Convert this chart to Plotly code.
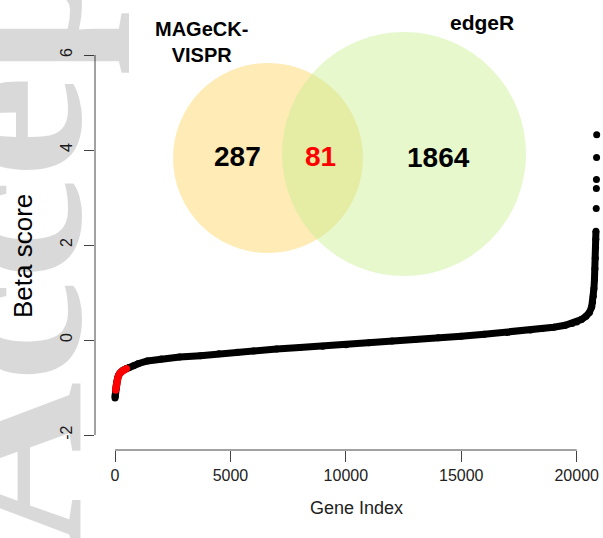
import plotly.graph_objects as go

# Genes ranked by beta score (rank -> beta)
gene_rank = [1, 5, 10, 20, 28, 40, 55, 70, 90, 120, 160, 210, 270, 340, 420, 500,
             600, 800, 1000, 1400, 2000, 2800, 3700, 4500, 5300, 6000, 7000, 8000,
             9000, 10000, 11000, 12000, 13000, 14000, 15000, 16000, 17000, 18000,
             18500, 19000, 19500, 19800, 20000, 20200, 20400, 20550, 20650, 20690,
             20720, 20745, 20770, 20790, 20805, 20818, 20828, 20834,
             20846, 20852, 20856, 20861, 20866]
beta_score = [-1.22, -1.18, -1.14, -1.09, -1.06, -1.00, -0.95, -0.90, -0.85, -0.79,
              -0.74, -0.70, -0.67, -0.64, -0.62, -0.60,
              -0.58, -0.54, -0.50, -0.44, -0.40, -0.36, -0.33, -0.29, -0.26, -0.23,
              -0.19, -0.16, -0.13, -0.10, -0.06, -0.02, 0.01, 0.045, 0.08, 0.12,
              0.16, 0.21, 0.24, 0.27, 0.31, 0.35, 0.38, 0.43, 0.50, 0.58, 0.70, 0.80,
              0.92, 1.08, 1.28, 1.50, 1.72, 1.95, 2.12, 2.29,
              2.77, 3.19, 3.38, 3.84, 4.32]

# Rank window of the genes shared by both methods (drawn in red)
shared_rank_window = (28, 500)
# Top outliers drawn as separate points
outlier_from_rank = 20840

# Venn diagram of hit genes
venn_sets = ["MAGeCK-<br>VISPR", "edgeR"]
venn_counts = [287, 81, 1864]   # MAGeCK only, both, edgeR only

x_ticks = [0, 5000, 10000, 15000, 20000]
y_ticks = [-2, 0, 2, 4, 6]

W, H = 603, 538
ML, MR, MT, MB = 95, 0, 40, 88
PW, PH = W - ML - MR, H - MT - MB


def px(x):
    return (x - ML) / PW


def py(y):
    return (H - MB - y) / PH


FONT = "Liberation Sans, Arial, sans-serif"
INK = "#444444"

body = [(r, b) for r, b in zip(gene_rank, beta_score) if r < outlier_from_rank]
tail = [(r, b) for r, b in zip(gene_rank, beta_score) if r >= outlier_from_rank]
shared = [(r, b) for r, b in zip(gene_rank, beta_score)
          if shared_rank_window[0] <= r <= shared_rank_window[1]]

fig = go.Figure()
fig.add_trace(go.Scatter(
    x=[r for r, _ in body], y=[b for _, b in body], mode="lines+markers",
    line=dict(color="black", width=7), marker=dict(color="black", size=7),
    hoverinfo="skip"))
fig.add_trace(go.Scatter(
    x=[r for r, _ in tail], y=[b for _, b in tail], mode="markers",
    marker=dict(color="black", size=7), hoverinfo="skip"))
fig.add_trace(go.Scatter(
    x=[r for r, _ in shared], y=[b for _, b in shared], mode="lines+markers",
    line=dict(color="#ff0000", width=7), marker=dict(color="#ff0000", size=7),
    hoverinfo="skip"))

shapes = [
    # detached R-style axis lines spanning the tick range
    dict(type="line", xref="paper", yref="y", x0=0, x1=0, y0=y_ticks[0], y1=y_ticks[-1],
         line=dict(color=INK, width=1)),
    dict(type="line", xref="x", yref="paper", x0=x_ticks[0], x1=x_ticks[-1], y0=0, y1=0,
         line=dict(color=INK, width=1)),
    # Venn circles
    dict(type="circle", xref="paper", yref="paper", x0=px(173), x1=px(363),
         y0=py(253), y1=py(63), fillcolor="rgb(253,211,93)", opacity=0.45,
         line=dict(width=0), layer="above"),
    dict(type="circle", xref="paper", yref="paper", x0=px(282), x1=px(526),
         y0=py(276), y1=py(32), fillcolor="rgb(199,239,142)", opacity=0.45,
         line=dict(width=0), layer="above"),
]

annotations = [
    dict(text="<b>Accepted Manuscript</b>", xref="paper", yref="paper", x=px(2), y=py(550),
         xanchor="center", yanchor="bottom", textangle=-90, showarrow=False,
         font=dict(family="Liberation Serif, Times New Roman, serif", size=230,
                   color="rgba(0,0,0,0.15)")),
    dict(text="Beta score", xref="paper", yref="paper", x=px(23), y=py(256),
         xanchor="center", yanchor="middle", textangle=-90, showarrow=False,
         font=dict(family=FONT, size=26, color="black")),
    dict(text="Gene Index", xref="paper", yref="paper", x=px(356), y=py(508),
         xanchor="center", yanchor="middle", showarrow=False,
         font=dict(family=FONT, size=18, color="#222222")),
    dict(text="<b>%s</b>" % venn_sets[0], xref="paper", yref="paper", x=px(201), y=py(42),
         xanchor="center", yanchor="middle", showarrow=False,
         font=dict(family=FONT, size=20, color="black")),
    dict(text="<b>%s</b>" % venn_sets[1], xref="paper", yref="paper", x=px(482), y=py(23),
         xanchor="center", yanchor="middle", showarrow=False,
         font=dict(family=FONT, size=21, color="black")),
    dict(text="<b>%d</b>" % venn_counts[0], xref="paper", yref="paper", x=px(237), y=py(156),
         xanchor="center", yanchor="middle", showarrow=False,
         font=dict(family=FONT, size=28, color="black")),
    dict(text="<b>%d</b>" % venn_counts[1], xref="paper", yref="paper", x=px(320), y=py(156),
         xanchor="center", yanchor="middle", showarrow=False,
         font=dict(family=FONT, size=28, color="#ff0000")),
    dict(text="<b>%d</b>" % venn_counts[2], xref="paper", yref="paper", x=px(438), y=py(157),
         xanchor="center", yanchor="middle", showarrow=False,
         font=dict(family=FONT, size=28, color="black")),
]

# axis scales: 20000 genes over 461.7 px, one beta unit per 47.5 px
x_per_px = 20000 / (576.7 - 115)
y_per_px = 1 / 47.5
fig.update_layout(
    width=W, height=H, margin=dict(l=ML, r=MR, t=MT, b=MB),
    paper_bgcolor="white", plot_bgcolor="white", showlegend=False,
    shapes=shapes, annotations=annotations,
    xaxis=dict(range=[(ML - 115) * x_per_px, (W - MR - 115) * x_per_px],
               tickvals=x_ticks, ticktext=[str(v) for v in x_ticks],
               ticks="outside", ticklen=11, tickcolor=INK, tickwidth=1,
               showline=False, showgrid=False, zeroline=False,
               tickfont=dict(family=FONT, size=16, color="#222222")),
    yaxis=dict(range=[-(H - MB - 340) * y_per_px, (340 - MT) * y_per_px],
               tickvals=y_ticks, ticktext=[str(v) for v in y_ticks],
               ticks="outside", ticklen=10, tickcolor=INK, tickwidth=1,
               tickangle=-90, ticklabelstandoff=6,
               showline=False, showgrid=False, zeroline=False,
               tickfont=dict(family=FONT, size=16, color="#222222")),
)

fig.write_html("out.html")
